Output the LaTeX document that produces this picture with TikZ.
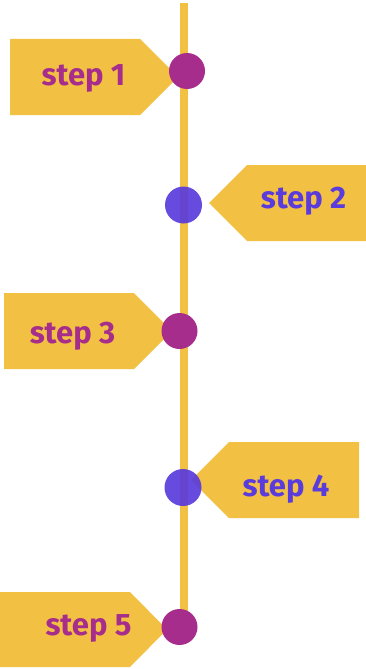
\documentclass[tikz,border=0pt]{standalone}
\usepackage{fontspec}
\setmainfont{Fira Sans}
\definecolor{tagyellow}{HTML}{F2C043}
\definecolor{magentap}{HTML}{A62D8C}
\definecolor{bluep}{HTML}{5A3BDB}
\begin{document}
\begin{tikzpicture}[x=1pt,y=-1pt,
  tag/.style={fill=tagyellow},
  steptext/.style={font=\fontsize{31}{36}\selectfont\bfseries, inner sep=0pt, anchor=base},
  dotm/.style={circle, fill=magentap, minimum size=36pt, inner sep=0pt},
  dotb/.style={circle, fill=bluep, fill opacity=0.92, minimum size=37pt, inner sep=0pt},
  spine/.style={draw=tagyellow, line width=7.5pt}]
\useasboundingbox (0,0) rectangle (366,669);
% tags
\fill[tag] (10,39) -- (140,39) -- (178,77) -- (140,115) -- (10,115) -- cycle;
\fill[tag] (366,165) -- (247,165) -- (209,203) -- (247,241) -- (366,241) -- cycle;
\fill[tag] (4,293) -- (134,293) -- (172,331) -- (134,369) -- (4,369) -- cycle;
\fill[tag] (359,442) -- (229,442) -- (191,480) -- (229,518) -- (359,518) -- cycle;
\fill[tag] (0,592) -- (130,592) -- (167,629.5) -- (130,667) -- (0,667) -- cycle;
% spine
\coordinate (top) at (184,3);
\coordinate (bot) at (184,627);
\draw[spine] (top) -- (bot);
% dots
\node[dotm] (d1) at (187,71) {};
\node[dotb] (d2) at (183.5,205) {};
\node[dotm] (d3) at (179.5,331) {};
\node[dotb] (d4) at (183,487.5) {};
\node[dotm] (d5) at (179.5,627) {};
% labels
\node[steptext, text=magentap] (t1) at (83.5,85) {step 1};
\node[steptext, text=bluep] (t2) at (303.5,208) {step 2};
\node[steptext, text=magentap] (t3) at (72.5,343) {step 3};
\node[steptext, text=bluep] (t4) at (286,496) {step 4};
\node[steptext, text=magentap] (t5) at (88.5,635) {step 5};
\end{tikzpicture}
\end{document}
